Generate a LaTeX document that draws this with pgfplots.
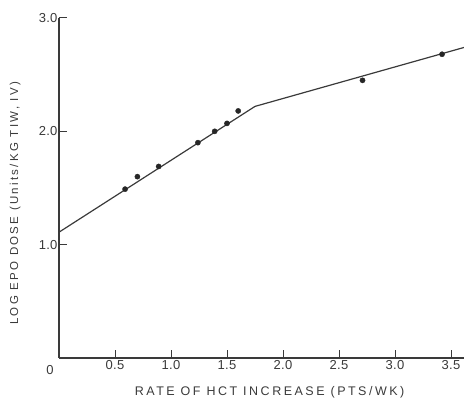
\documentclass[border=0pt]{standalone}
\usepackage{pgfplots}
\pgfplotsset{compat=1.18}
\usepackage{fontspec}
\setmainfont{Liberation Sans}
\newfontfamily\labfont[LetterSpace=20]{Liberation Sans}
\newfontfamily\tickfont[LetterSpace=2]{Liberation Sans}
\definecolor{ink}{HTML}{3A3A3A}
\begin{document}
\begin{tikzpicture}[x=1pt,y=1pt]
\useasboundingbox (-59,-45) rectangle (405,358);
\begin{axis}[
  at={(0,0)}, anchor=south west,
  scale only axis, width=405pt, height=340pt,
  xmin=0, xmax=3.616, ymin=0, ymax=3.0,
  axis x line=bottom, axis y line=left,
  axis line style={ink, line width=1.2pt, -},
  xtick={0.5,1.0,1.5,2.0,2.5,3.0,3.5},
  xticklabels={0.5,1.0,1.5,2.0,2.5,3.0,3.5},
  ytick={1.0,2.0,3.0},
  yticklabels={1.0,2.0,3.0},
  tick align=inside,
  major tick length=8pt,
  tick style={ink, line width=1pt},
  ticklabel style={font=\tickfont\fontsize{13}{15}\selectfont, text=ink},
  xticklabel style={yshift=1pt},
  yticklabel style={xshift=2pt},
  /pgf/number format/assume math mode=true,
  xlabel={RATE OF HCT INCREASE (PTS/WK)},
  ylabel={LOG EPO DOSE (Units/KG TIW, IV)},
  xlabel style={font=\labfont\fontsize{12.5}{14}\selectfont, text=ink, at={(axis description cs:0.52,0)}, anchor=north, yshift=-25pt},
  ylabel style={font=\labfont\fontsize{11.5}{13}\selectfont, text=ink, at={(axis description cs:0,0.455)}, anchor=south, yshift=35pt},
  clip=false,
]
\addplot[ink, line width=1.2pt, no markers] coordinates {
  (0,1.11) (1.75,2.22) (3.616,2.74)
};
\addplot[only marks, mark=*, mark size=2.6pt, color=black!85] coordinates {
  (0.59,1.49) (0.70,1.60) (0.89,1.69) (1.24,1.90) (1.39,2.00)
  (1.50,2.07) (1.60,2.18) (2.71,2.45) (3.42,2.68)
};
\node[font=\tickfont\fontsize{13}{15}\selectfont, text=ink] at (axis cs:0,0) [xshift=-9pt, yshift=-12pt] {0};
\end{axis}
\end{tikzpicture}
\end{document}
